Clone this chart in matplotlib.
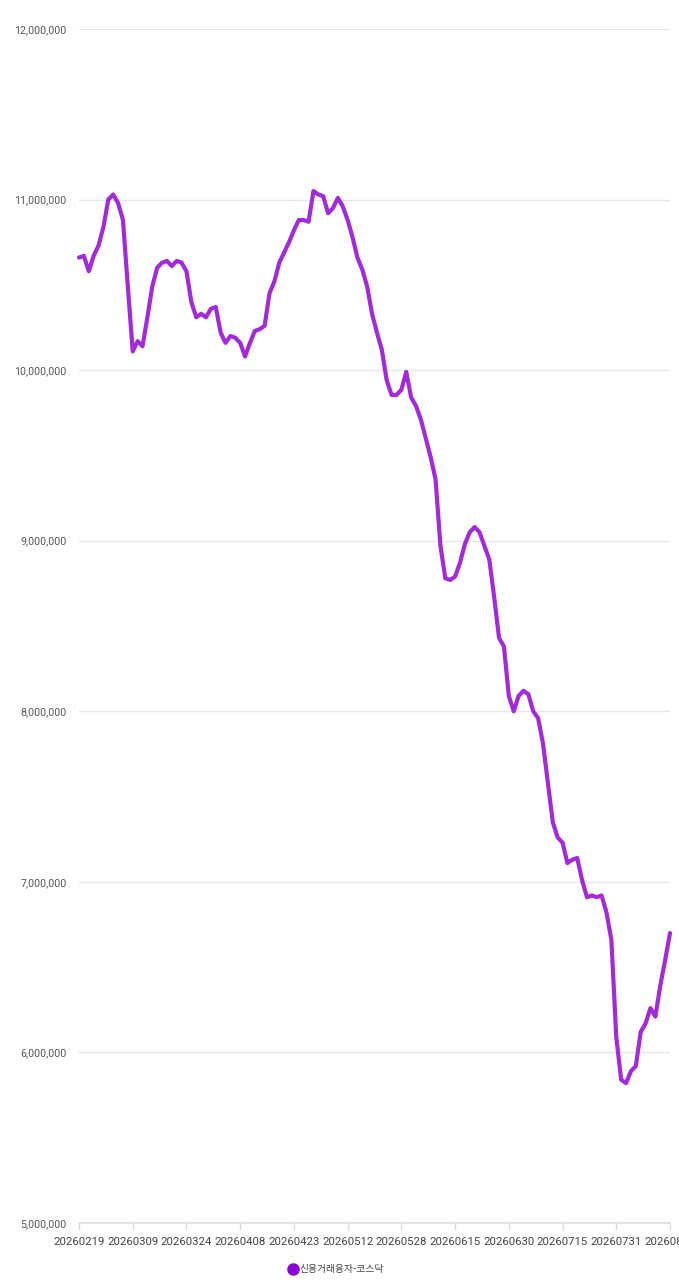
import matplotlib
matplotlib.use("Agg")
import matplotlib.pyplot as plt
from matplotlib.ticker import FuncFormatter, FixedLocator
import matplotlib.lines as mlines

plt.rcParams['font.family'] = ['Roboto', 'Noto Sans CJK KR', 'DejaVu Sans']

series_name = "신용거래융자-코스닥"
tick_labels = ["20260219", "20260309", "20260324", "20260408", "20260423",
               "20260512", "20260528", "20260615", "20260630", "20260715",
               "20260731", "20260814"]
tick_step = 11
values_m = [
    10.66, 10.67, 10.58, 10.67, 10.73, 10.84, 11.00, 11.03, 10.98, 10.88,
    10.49, 10.11, 10.17, 10.14, 10.31, 10.49, 10.60, 10.63, 10.64, 10.61,
    10.64, 10.63, 10.58, 10.40, 10.31, 10.33, 10.31, 10.36, 10.37, 10.22,
    10.16, 10.20, 10.19, 10.16, 10.08, 10.16, 10.23, 10.24, 10.26, 10.45,
    10.52, 10.63, 10.69, 10.75, 10.82, 10.88, 10.88, 10.87, 11.05, 11.03,
    11.02, 10.92, 10.95, 11.01, 10.96, 10.88, 10.78, 10.66, 10.59, 10.49,
    10.33, 10.22, 10.12, 9.94, 9.855, 9.855, 9.885, 9.99, 9.84, 9.79,
    9.71, 9.60, 9.49, 9.36, 8.97, 8.78, 8.77, 8.79, 8.87, 8.98,
    9.05, 9.08, 9.05, 8.97, 8.89, 8.67, 8.43, 8.38, 8.09, 8.00,
    8.09, 8.12, 8.10, 8.00, 7.96, 7.81, 7.58, 7.35, 7.26, 7.23,
    7.11, 7.13, 7.14, 7.01, 6.91, 6.92, 6.91, 6.92, 6.82, 6.66,
    6.09, 5.84, 5.82, 5.89, 5.92, 6.12, 6.17, 6.26, 6.21, 6.39,
    6.54, 6.70,
]
values = [v * 1_000_000 for v in values_m]
y_min, y_max, y_step = 5_000_000, 12_000_000, 1_000_000

fig = plt.figure(figsize=(6.79, 12.8), dpi=100)
ax = fig.add_axes([79/679, 1 - 1223/1280, (670-79)/679, (1223-29)/1280])

x = list(range(len(values)))
ax.plot(x, values, color='#A12BDB', linewidth=3.0, solid_joinstyle='round',
        solid_capstyle='round', zorder=3, clip_on=False)

ax.set_xlim(0, len(values) - 1)
ax.set_ylim(y_min, y_max)
ax.set_yticks(list(range(y_min, y_max + 1, y_step)))
ax.yaxis.set_major_formatter(FuncFormatter(lambda v, p: f"{int(v):,}"))
ax.grid(axis='y', color='#e6e6e6', linewidth=1.0, zorder=0)
ax.tick_params(axis='y', length=0, pad=9, labelsize=7.7, labelcolor='#555555')

ax.xaxis.set_major_locator(FixedLocator([i * tick_step for i in range(len(tick_labels))]))
ax.set_xticklabels(tick_labels)
ax.tick_params(axis='x', length=5, width=1, color='#dddddd', pad=5,
               labelsize=8.2, labelcolor='#444444')
for lab in ax.get_xticklabels():
    lab.set_clip_on(False)

for s in ['top', 'right', 'left']:
    ax.spines[s].set_visible(False)
ax.spines['bottom'].set_color('#dddddd')
ax.spines['bottom'].set_linewidth(1.2)

handle = mlines.Line2D([], [], color='#8B00D9', marker='o', linestyle='None',
                       markersize=8)
fig.legend([handle], [series_name], loc='center', bbox_to_anchor=(0.495, 1 - 1269/1280),
           frameon=False, prop={'family': ['Noto Sans CJK KR', 'DejaVu Sans'], 'size': 7},
           labelcolor='#444444', handletextpad=0.1, handlelength=1.0)

fig.savefig('out.png', dpi=100)
